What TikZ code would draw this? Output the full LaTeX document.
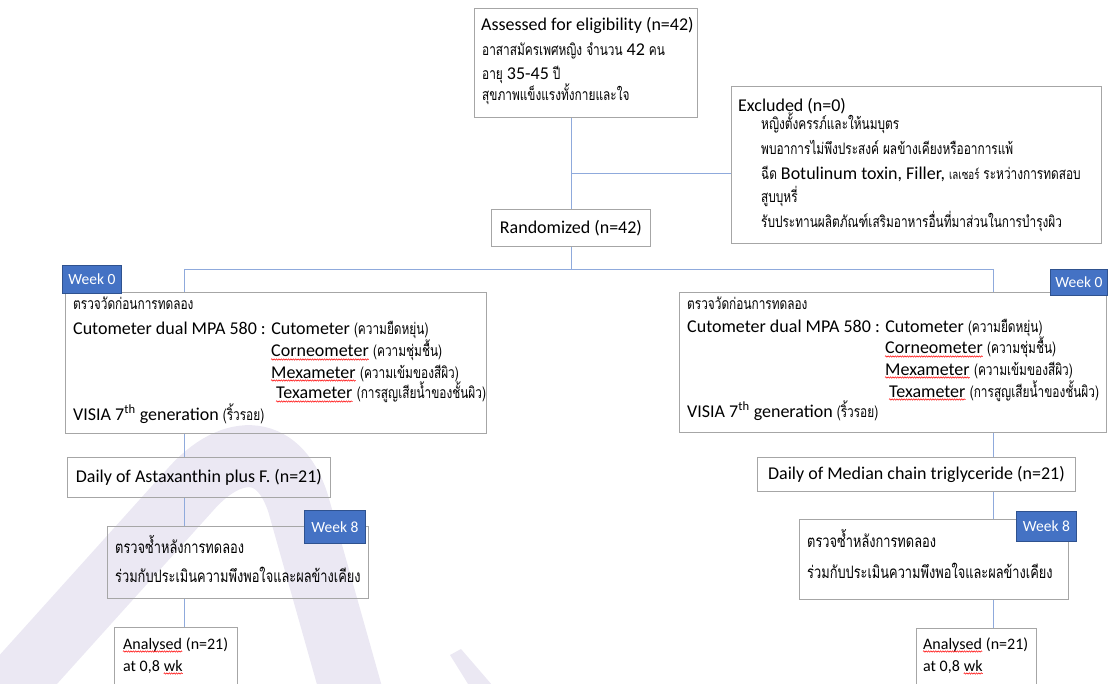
\documentclass[tikz,border=0pt]{standalone}
\usepackage{fontspec}
\setmainfont{Carlito}
\newfontfamily\thaifont[Script=Thai,FakeStretch=0.75]{Loma}
\usetikzlibrary{decorations.pathmorphing}

\definecolor{boxgray}{HTML}{A6A6A6}
\definecolor{linkblue}{HTML}{8FAADC}
\definecolor{weekblue}{HTML}{4472C4}
\definecolor{weekedge}{HTML}{2F528F}
\definecolor{wmark}{HTML}{EBE8F3}

\newcommand{\en}{\rmfamily\fontsize{18}{21}\selectfont}
\newcommand{\ensmall}{\rmfamily\fontsize{16}{19}\selectfont}
\newcommand{\thsmall}{\thaifont\fontsize{15.8}{18}\selectfont}
\newcommand{\thbig}{\thaifont\fontsize{17.1}{20}\selectfont}

\tikzset{
  box/.style={draw=boxgray, line width=0.9pt, inner sep=0pt, anchor=north west},
  weeklabel/.style={box, draw=weekedge, fill=weekblue, text=white, font=\fontsize{15.5}{18}\selectfont},
  txt/.style={anchor=base west, inner sep=0pt},
  link/.style={draw=linkblue, line width=0.9pt},
  spell/.style={draw=red, line width=0.5pt, decorate, decoration={snake, amplitude=0.7pt, segment length=2.4pt}}
}

\begin{document}
\begin{tikzpicture}[x=1pt,y=-1pt]
\useasboundingbox (0,0) rectangle (1108,684);
\clip (0,0) rectangle (1108,684);

% watermark
\draw[wmark, line width=62pt] (-10,712) -- (190,490) .. controls (232,442) and (282,442) .. (300,510) -- (362,730);
\fill[wmark] (450,655) -- (461,649) -- (505,700) -- (478,700) -- cycle;

% columns
\coordinate (mcol) at (571,0);
\coordinate (lcol) at (184,0);
\coordinate (rcol) at (993,0);
\coordinate (exjoin) at (571,173);
\coordinate (split) at (571,269);

% boxes
\node[box, minimum width=223, minimum height=109] (assess) at (474,8) {};
\node[box, minimum width=370, minimum height=157] (excl) at (731,86) {};
\node[box, minimum width=159, minimum height=37, font=\en] (rand) at (491,209) {Randomized (n=42)};
\node[box, minimum width=421, minimum height=141] (lbox) at (65,292) {};
\node[box, minimum width=427, minimum height=140] (rbox) at (679,292) {};
\node[box, minimum width=263, minimum height=40, font=\en] (ldaily) at (67,457) {Daily of Astaxanthin plus F. (n=21)};
\node[box, minimum width=318, minimum height=34, font=\en] (rdaily) at (757,457) {Daily of Median chain triglyceride (n=21)};
\node[box, minimum width=261, minimum height=72] (lcheck) at (107,526) {};
\node[box, minimum width=269, minimum height=80] (rcheck) at (799,519) {};
\node[box, minimum width=123, minimum height=80] (lanal) at (114,627) {};
\node[box, minimum width=120, minimum height=80] (ranal) at (916,628) {};

\node[weeklabel, minimum width=59, minimum height=28] (lweek0) at (62,265) {Week 0};
\node[weeklabel, minimum width=57, minimum height=26] (rweek0) at (1050,269) {Week 0};
\node[weeklabel, minimum width=61, minimum height=33] (lweek8) at (304,510) {Week 8};
\node[weeklabel, minimum width=60, minimum height=30] (rweek8) at (1016,511) {Week 8};

% connectors
\draw[link] (assess.south -| mcol) -- (rand.north -| mcol);
\draw[link] (exjoin) -- (exjoin -| excl.west);
\draw[link] (rand.south -| mcol) -- (split);
\draw[link] (split -| lcol) -- (split -| rcol);
\draw[link] (split -| lcol) -- (lbox.north -| lcol);
\draw[link] (split -| rcol) -- (rbox.north -| rcol);
\draw[link] (lbox.south -| lcol) -- (ldaily.north -| lcol);
\draw[link] (ldaily.south -| lcol) -- (lcheck.north -| lcol);
\draw[link] (lcheck.south -| lcol) -- (lanal.north -| lcol);
\draw[link] (rbox.south -| rcol) -- (rdaily.north -| rcol);
\draw[link] (rdaily.south -| rcol) -- (rcheck.north -| rcol);
\draw[link] (rcheck.south -| rcol) -- (ranal.north -| rcol);

% texts
\node[txt, font=\en] (as1) at (481,31) {Assessed for eligibility (n=42)};
\node[txt, font=\thsmall] (as2) at (482,56) {อาสาสมัครเพศหญิง จำนวน {\en 42} คน};
\node[txt, font=\thsmall] (as3) at (482,80) {อายุ {\en 35-45} ปี};
\node[txt, font=\thsmall] (as4) at (482,101) {สุขภาพแข็งแรงทั้งกายและใจ};

\node[txt, font=\en] (ex1) at (738,112) {Excluded (n=0)};
\node[txt, font=\thsmall] (ex2) at (761,130) {หญิงตั้งครรภ์และให้นมบุตร};
\node[txt, font=\thsmall] (ex3) at (761,155) {พบอาการไม่พึงประสงค์ ผลข้างเคียงหรืออาการแพ้};
\node[txt, font=\thsmall] (ex4) at (761,180) {ฉีด {\en Botulinum toxin, Filler,} {\fontsize{13}{15}\selectfont เลเซอร์} ระหว่างการทดสอบ};
\node[txt, font=\thsmall] (ex5) at (761,203) {สูบบุหรี่};
\node[txt, font=\thsmall] (ex6) at (761,228) {รับประทานผลิตภัณฑ์เสริมอาหารอื่นที่มาส่วนในการบำรุงผิว};

\node[txt, font=\thsmall] (lb1) at (73,310) {ตรวจวัดก่อนการทดลอง};
\node[txt, font=\en] (lb2) at (73,335) {Cutometer dual MPA 580 : Cutometer {\thsmall (ความยืดหยุ่น)}};
\node[txt, font=\en] (lcorn) at (271,357) {Corneometer};
\node[txt, font=\thsmall, xshift=4pt] (lcornth) at (lcorn.base east) {(ความชุ่มชื้น)};
\node[txt, font=\en] (lmexa) at (271,378) {Mexameter};
\node[txt, font=\thsmall, xshift=4pt] (lmexath) at (lmexa.base east) {(ความเข้มของสีผิว)};
\node[txt, font=\en] (ltexa) at (276,399) {Texameter};
\node[txt, font=\thsmall, xshift=4pt] (ltexath) at (ltexa.base east) {(การสูญเสียน้ำของชั้นผิว)};
\node[txt, font=\en] (lb6) at (73,420) {VISIA 7\textsuperscript{th} generation {\thsmall (ริ้วรอย)}};

\node[txt, font=\thsmall] (rb1) at (687,310) {ตรวจวัดก่อนการทดลอง};
\node[txt, font=\en] (rb2) at (687,333) {Cutometer dual MPA 580 : Cutometer {\thsmall (ความยืดหยุ่น)}};
\node[txt, font=\en] (rcorn) at (885,354) {Corneometer};
\node[txt, font=\thsmall, xshift=4pt] (rcornth) at (rcorn.base east) {(ความชุ่มชื้น)};
\node[txt, font=\en] (rmexa) at (885,375) {Mexameter};
\node[txt, font=\thsmall, xshift=4pt] (rmexath) at (rmexa.base east) {(ความเข้มของสีผิว)};
\node[txt, font=\en] (rtexa) at (889,397) {Texameter};
\node[txt, font=\thsmall, xshift=4pt] (rtexath) at (rtexa.base east) {(การสูญเสียน้ำของชั้นผิว)};
\node[txt, font=\en] (rb6) at (687,417) {VISIA 7\textsuperscript{th} generation {\thsmall (ริ้วรอย)}};

\node[txt, font=\thbig] (lc1) at (115,553) {ตรวจซ้ำหลังการทดลอง};
\node[txt, font=\thbig] (lc2) at (115,582) {ร่วมกับประเมินความพึงพอใจและผลข้างเคียง};
\node[txt, font=\thbig] (rc1) at (807,547) {ตรวจซ้ำหลังการทดลอง};
\node[txt, font=\thbig] (rc2) at (807,578) {ร่วมกับประเมินความพึงพอใจและผลข้างเคียง};

\node[txt, font=\ensmall] (lanword) at (123,649) {Analysed};
\node[txt, font=\ensmall, xshift=3.6pt] (lann) at (lanword.base east) {(n=21)};
\node[txt, font=\ensmall] (lat) at (123,671) {at 0,8};
\node[txt, font=\ensmall, xshift=3.6pt] (lwk) at (lat.base east) {wk};
\node[txt, font=\ensmall] (ranword) at (923,649) {Analysed};
\node[txt, font=\ensmall, xshift=3.6pt] (rann) at (ranword.base east) {(n=21)};
\node[txt, font=\ensmall] (rat) at (923,671) {at 0,8};
\node[txt, font=\ensmall, xshift=3.6pt] (rwk) at (rat.base east) {wk};

% spelling marks
\foreach \w in {lcorn,lmexa,ltexa,rcorn,rmexa,rtexa,lanword,lwk,ranword,rwk}
  \draw[spell] ([yshift=-2.5pt]\w.base west) -- ([yshift=-2.5pt]\w.base east);
\end{tikzpicture}
\end{document}
